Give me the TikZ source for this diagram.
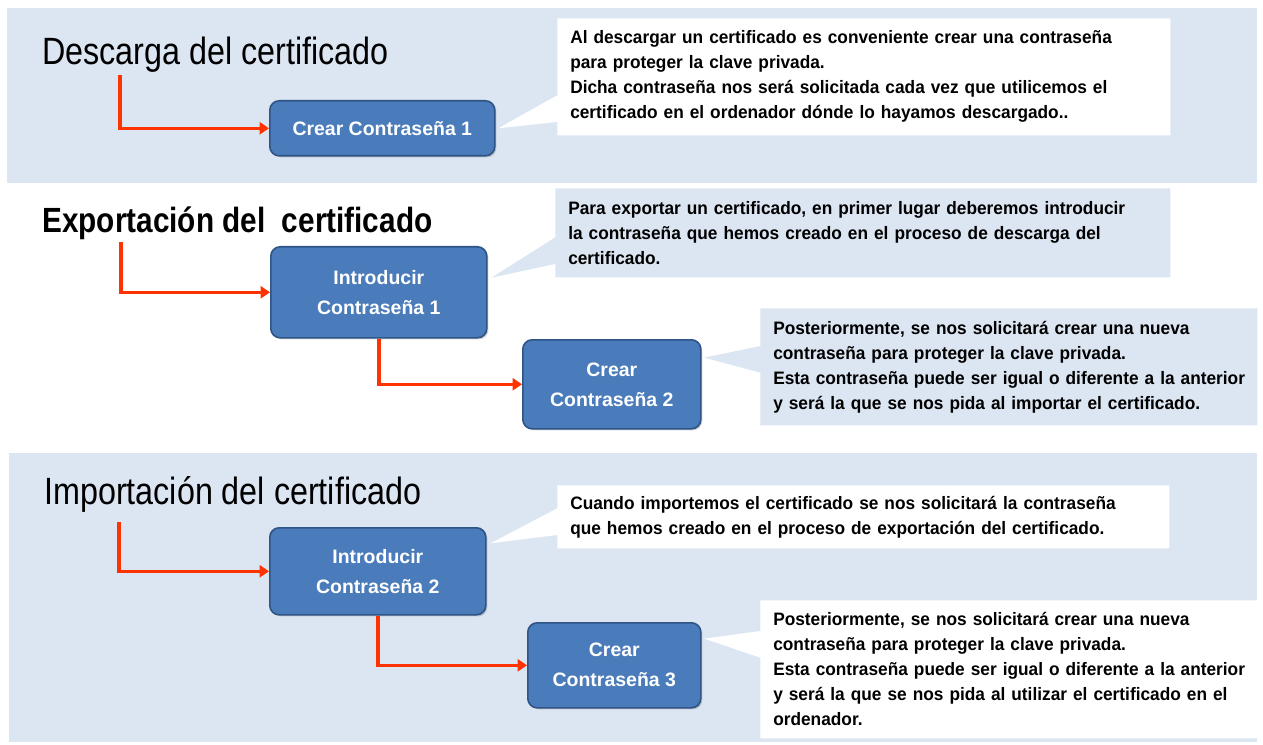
\documentclass[tikz,border=0pt]{standalone}
\usepackage{fontspec}
\setmainfont{Liberation Sans}
\newfontfamily\estrecha[FakeStretch=0.85]{Liberation Sans}
\newfontfamily\letranota[FakeStretch=0.96]{Liberation Sans}
\usepackage{tikz}
\usetikzlibrary{positioning, shapes.callouts, shadows, arrows.meta}
\definecolor{fondo}{HTML}{DCE5F2}
\definecolor{azulpaso}{HTML}{4A7BBA}
\definecolor{bordepaso}{HTML}{2F5486}
\definecolor{rojo}{HTML}{FF3300}
\begin{document}
\begin{tikzpicture}[x=0.75pt, y=-0.75pt,
    titulo/.style={anchor=base west, inner sep=0pt, font=\estrecha\fontsize{28.5pt}{34pt}\selectfont},
    paso/.style={draw=bordepaso, fill=azulpaso, line width=1.2pt, rounded corners=7pt, anchor=north west,
        text=white, align=center, font=\bfseries\fontsize{14.6pt}{22.5pt}\selectfont,
        drop shadow={shadow xshift=1.2pt, shadow yshift=-1.2pt, opacity=0.35}},
    nota/.style={rectangle callout, anchor=north west, align=left, inner xsep=9.75pt, inner ysep=0pt,
        callout pointer width=20pt, font=\letranota\bfseries\fontsize{13.5pt}{18.75pt}\selectfont,
        execute at begin node={\hyphenpenalty=10000 }},
    flecha/.style={draw=rojo, line width=2.6pt, -{Triangle[length=7pt, width=9pt]}}]
    \useasboundingbox (0,0) rectangle (1263,745);
    \fill[fondo] (7,8) rectangle (1257,183);
    \fill[fondo] (9,453) rectangle (1257,742);

    % Descarga
    \node[titulo] (titulo1) at (42,65) {Descarga del certificado};
    \node[paso, minimum width=168.75pt, minimum height=41.25pt] (paso1) at (269,100) {Crear Contraseña 1};
    \node[nota, fill=white, minimum width=459.75pt, minimum height=87.75pt, text width=440.25pt,
        callout absolute pointer={([xshift=2pt]paso1.east)}] (nota1) at (557,18)
        {Al descargar un certificado es conveniente crear una contraseña\\
         para proteger la clave privada.\\
         Dicha contraseña nos será solicitada cada vez que utilicemos el\\
         certificado en el ordenador dónde lo hayamos descargado..};
    \coordinate (ini1) at (120,75);

    % Exportacion
    \node[titulo, font=\estrecha\bfseries\fontsize{26.25pt}{32pt}\selectfont] (titulo2) at (42,233) {Exportación del\ \ certificado};
    \node[paso, minimum width=162pt, minimum height=68.25pt] (paso2) at (270,246) {Introducir\\Contraseña 1};
    \node[paso, minimum width=133.5pt, minimum height=66.75pt] (paso3) at (522,339) {Crear\\Contraseña 2};
    \node[nota, fill=fondo, minimum width=461.25pt, minimum height=66.75pt, text width=441.75pt,
        callout absolute pointer={([xshift=3pt, yshift=11pt]paso2.east)}] (nota2) at (555,188)
        {Para exportar un certificado, en primer lugar deberemos introducir\\
         la contraseña que hemos creado en el proceso de descarga del\\
         certificado.};
    \node[nota, fill=fondo, minimum width=372.75pt, minimum height=87.75pt, text width=353.25pt,
        callout absolute pointer={([xshift=2pt, yshift=20pt]paso3.east)}] (nota3) at (760,308)
        {Posteriormente, se nos solicitará crear una nueva\\
         contraseña para proteger la clave privada.\\
         \mbox{Esta contraseña puede ser igual o diferente a la anterior}\\
         y será la que se nos pida al importar el certificado.};
    \coordinate (ini2) at (121,242);

    % Importacion
    \node[titulo] (titulo3) at (44,504) {Importación del certificado};
    \node[paso, minimum width=162pt, minimum height=65.25pt] (paso4) at (269,527) {Introducir\\Contraseña 2};
    \node[paso, minimum width=129.75pt, minimum height=63.75pt] (paso5) at (527,622) {Crear\\Contraseña 3};
    \node[nota, fill=white, minimum width=459pt, minimum height=47.25pt, text width=439.5pt,
        callout absolute pointer={([xshift=3pt, yshift=21pt]paso4.east)}] (nota4) at (557,485)
        {Cuando importemos el certificado se nos solicitará la contraseña\\
         que hemos creado en el proceso de exportación del certificado.};
    \node[nota, fill=white, minimum width=372.75pt, minimum height=103.5pt, text width=353.25pt,
        callout absolute pointer={([xshift=2pt, yshift=20pt]paso5.east)}] (nota5) at (760,600)
        {Posteriormente, se nos solicitará crear una nueva\\
         contraseña para proteger la clave privada.\\
         \mbox{Esta contraseña puede ser igual o diferente a la anterior}\\
         y será la que se nos pida al utilizar el certificado en el\\
         ordenador.};
    \coordinate (ini3) at (119,522);

    \draw[flecha] (ini1) |- (paso1.west);
    \draw[flecha] (ini2) |- (paso2.west);
    \draw[flecha] (paso2.south) |- (paso3.west);
    \draw[flecha] (ini3) |- (paso4.west);
    \draw[flecha] (paso4.south) |- (paso5.west);
\end{tikzpicture}
\end{document}
